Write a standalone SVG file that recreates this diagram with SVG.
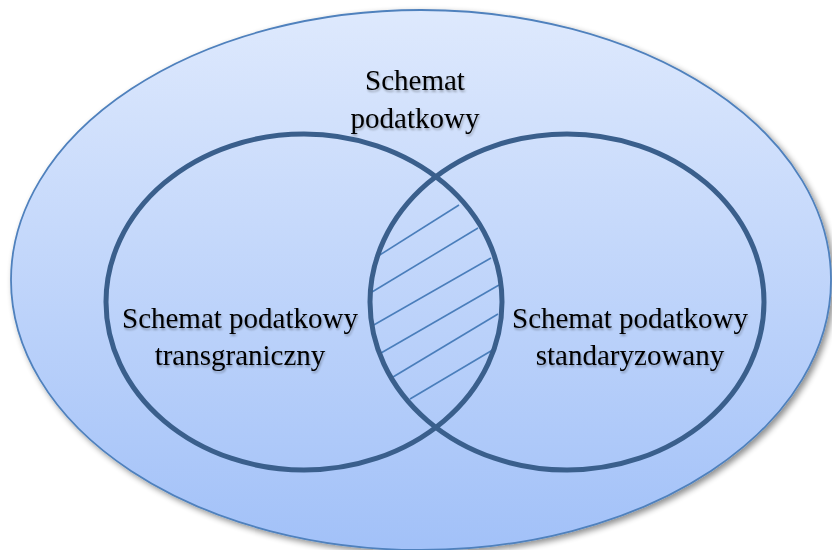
<svg xmlns="http://www.w3.org/2000/svg" width="832" height="550" viewBox="0 0 832 550">
<defs>
<linearGradient id="bg" x1="0" y1="0" x2="0" y2="1">
<stop offset="0" stop-color="#DEE9FD"/>
<stop offset="1" stop-color="#A2C1F8"/>
</linearGradient>
<filter id="sh" x="-5%" y="-5%" width="115%" height="115%">
<feGaussianBlur in="SourceAlpha" stdDeviation="3"/>
<feOffset dx="3" dy="3" result="b"/>
<feComponentTransfer><feFuncA type="linear" slope="0.45"/></feComponentTransfer>
<feMerge><feMergeNode/><feMergeNode in="SourceGraphic"/></feMerge>
</filter>
<filter id="tsh" x="-5%" y="-10%" width="110%" height="130%">
<feGaussianBlur in="SourceAlpha" stdDeviation="1"/>
<feOffset dx="1" dy="1.5"/>
<feComponentTransfer><feFuncA type="linear" slope="0.3"/></feComponentTransfer>
<feMerge><feMergeNode/><feMergeNode in="SourceGraphic"/></feMerge>
</filter>
</defs>
<style>
.lbl{font-family:"Liberation Serif","Times New Roman",serif;font-size:29px;fill:#000;text-anchor:middle}
.ring{fill:none;stroke:#3A5F8C;stroke-width:5}
.hatch{stroke:#4A7EBB;stroke-width:1.6;fill:none}
</style>
<g id="outer" filter="url(#sh)">
<ellipse cx="421" cy="280" rx="410" ry="270" fill="url(#bg)" stroke="#4F81BD" stroke-width="1.8"/>
</g>
<g id="outer-label" filter="url(#tsh)">
<text class="lbl" x="415" y="90">Schemat</text>
<text class="lbl" x="415" y="128">podatkowy</text>
</g>
<g id="connectors">
<g id="hatching">
<line class="hatch" x1="375" y1="258" x2="459" y2="205"/>
<line class="hatch" x1="372" y1="292" x2="478" y2="228"/>
<line class="hatch" x1="372" y1="326" x2="491" y2="258"/>
<line class="hatch" x1="381" y1="353" x2="499" y2="285"/>
<line class="hatch" x1="393" y1="377" x2="498" y2="314"/>
<line class="hatch" x1="410" y1="399" x2="496" y2="348"/>
</g>
</g>
<g id="left">
<ellipse class="ring" cx="304" cy="302" rx="198" ry="168"/>
<g filter="url(#tsh)">
<text class="lbl" x="240" y="328">Schemat podatkowy</text>
<text class="lbl" x="240" y="365">transgraniczny</text>
</g>
</g>
<g id="right">
<ellipse class="ring" cx="567" cy="302" rx="197" ry="168"/>
<g filter="url(#tsh)">
<text class="lbl" x="630" y="328">Schemat podatkowy</text>
<text class="lbl" x="630" y="365">standaryzowany</text>
</g>
</g>
</svg>
